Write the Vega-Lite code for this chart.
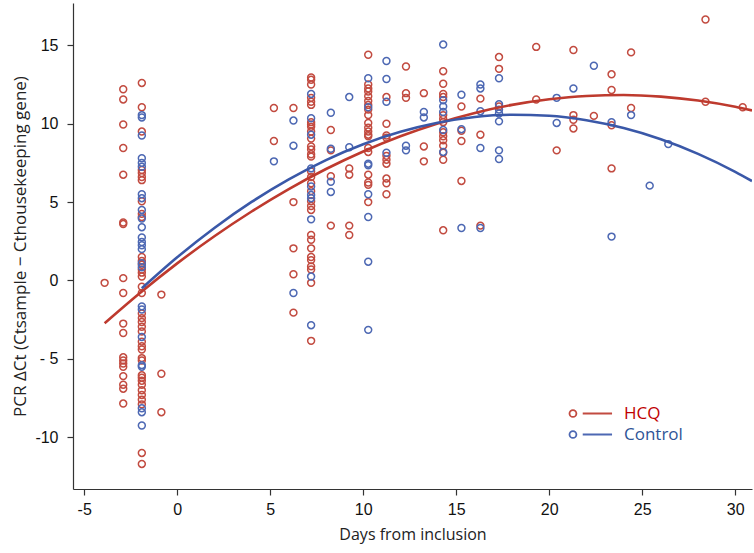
{
  "$schema": "https://vega.github.io/schema/vega-lite/v6.json",
  "width": 679,
  "height": 486,
  "autosize": "none",
  "padding": {"left": 73, "top": 3, "right": 2, "bottom": 64},
  "background": "white",
  "config": {
    "view": {"stroke": null},
    "axis": {
      "grid": false,
      "domainColor": "#333333",
      "domainWidth": 1.2,
      "tickColor": "#333333",
      "tickWidth": 1.2,
      "tickSize": 6,
      "labelFont": "Liberation Sans",
      "labelFontSize": 16,
      "labelColor": "#111111",
      "titleFont": "Open Sans",
      "titleFontSize": 16,
      "titleFontWeight": "normal",
      "titleColor": "#222222"
    }
  },
  "datasets": {
    "points": [
      {"day": -3.9, "dct": -0.15, "arm": "HCQ"},
      {"day": -2.9, "dct": 12.2, "arm": "HCQ"}, {"day": -2.9, "dct": 11.55, "arm": "HCQ"}, {"day": -2.9, "dct": 9.95, "arm": "HCQ"},
      {"day": -2.9, "dct": 8.45, "arm": "HCQ"}, {"day": -2.9, "dct": 6.75, "arm": "HCQ"}, {"day": -2.9, "dct": 3.7, "arm": "HCQ"},
      {"day": -2.9, "dct": 3.6, "arm": "HCQ"}, {"day": -2.9, "dct": 0.15, "arm": "HCQ"}, {"day": -2.9, "dct": -0.8, "arm": "HCQ"},
      {"day": -2.9, "dct": -2.75, "arm": "HCQ"}, {"day": -2.9, "dct": -3.35, "arm": "HCQ"}, {"day": -2.9, "dct": -4.9, "arm": "HCQ"},
      {"day": -2.9, "dct": -5.1, "arm": "HCQ"}, {"day": -2.9, "dct": -5.3, "arm": "HCQ"}, {"day": -2.9, "dct": -5.5, "arm": "HCQ"},
      {"day": -2.9, "dct": -6.1, "arm": "HCQ"}, {"day": -2.9, "dct": -6.65, "arm": "HCQ"}, {"day": -2.9, "dct": -6.9, "arm": "HCQ"},
      {"day": -2.9, "dct": -7.85, "arm": "HCQ"},
      {"day": -1.9, "dct": 12.6, "arm": "HCQ"}, {"day": -1.9, "dct": 11.05, "arm": "HCQ"}, {"day": -1.9, "dct": 9.5, "arm": "HCQ"},
      {"day": -1.9, "dct": 7.05, "arm": "HCQ"}, {"day": -1.9, "dct": 6.85, "arm": "HCQ"}, {"day": -1.9, "dct": 6.6, "arm": "HCQ"},
      {"day": -1.9, "dct": 6.4, "arm": "HCQ"}, {"day": -1.9, "dct": 5.05, "arm": "HCQ"}, {"day": -1.9, "dct": 4.25, "arm": "HCQ"},
      {"day": -1.9, "dct": 4.05, "arm": "HCQ"}, {"day": -1.9, "dct": 1.5, "arm": "HCQ"}, {"day": -1.9, "dct": 1.25, "arm": "HCQ"},
      {"day": -1.9, "dct": 1.0, "arm": "HCQ"}, {"day": -1.9, "dct": 0.7, "arm": "HCQ"}, {"day": -1.9, "dct": 0.5, "arm": "HCQ"},
      {"day": -1.9, "dct": 0.25, "arm": "HCQ"}, {"day": -1.9, "dct": -0.4, "arm": "HCQ"}, {"day": -1.9, "dct": -0.8, "arm": "HCQ"},
      {"day": -1.9, "dct": -2.1, "arm": "HCQ"}, {"day": -1.9, "dct": -2.4, "arm": "HCQ"}, {"day": -1.9, "dct": -2.65, "arm": "HCQ"},
      {"day": -1.9, "dct": -2.95, "arm": "HCQ"}, {"day": -1.9, "dct": -3.25, "arm": "HCQ"}, {"day": -1.9, "dct": -3.9, "arm": "HCQ"},
      {"day": -1.9, "dct": -4.2, "arm": "HCQ"}, {"day": -1.9, "dct": -4.4, "arm": "HCQ"}, {"day": -1.9, "dct": -4.95, "arm": "HCQ"},
      {"day": -1.9, "dct": -5.1, "arm": "HCQ"}, {"day": -1.9, "dct": -6.05, "arm": "HCQ"}, {"day": -1.9, "dct": -6.2, "arm": "HCQ"},
      {"day": -1.9, "dct": -6.4, "arm": "HCQ"}, {"day": -1.9, "dct": -6.65, "arm": "HCQ"}, {"day": -1.9, "dct": -7.0, "arm": "HCQ"},
      {"day": -1.9, "dct": -7.3, "arm": "HCQ"}, {"day": -1.9, "dct": -7.6, "arm": "HCQ"}, {"day": -1.9, "dct": -7.9, "arm": "HCQ"},
      {"day": -1.9, "dct": -11.0, "arm": "HCQ"}, {"day": -1.9, "dct": -11.7, "arm": "HCQ"},
      {"day": -0.85, "dct": -0.9, "arm": "HCQ"}, {"day": -0.85, "dct": -5.95, "arm": "HCQ"}, {"day": -0.85, "dct": -8.4, "arm": "HCQ"},
      {"day": 5.2, "dct": 11.0, "arm": "HCQ"}, {"day": 5.2, "dct": 8.9, "arm": "HCQ"},
      {"day": 6.25, "dct": 11.0, "arm": "HCQ"}, {"day": 6.25, "dct": 5.0, "arm": "HCQ"}, {"day": 6.25, "dct": 2.05, "arm": "HCQ"},
      {"day": 6.25, "dct": 0.4, "arm": "HCQ"}, {"day": 6.25, "dct": -2.05, "arm": "HCQ"},
      {"day": 7.2, "dct": 12.95, "arm": "HCQ"}, {"day": 7.2, "dct": 12.8, "arm": "HCQ"}, {"day": 7.2, "dct": 12.5, "arm": "HCQ"},
      {"day": 7.2, "dct": 11.65, "arm": "HCQ"}, {"day": 7.2, "dct": 11.4, "arm": "HCQ"}, {"day": 7.2, "dct": 11.2, "arm": "HCQ"},
      {"day": 7.2, "dct": 10.1, "arm": "HCQ"}, {"day": 7.2, "dct": 9.95, "arm": "HCQ"}, {"day": 7.2, "dct": 9.8, "arm": "HCQ"},
      {"day": 7.2, "dct": 9.5, "arm": "HCQ"}, {"day": 7.2, "dct": 9.05, "arm": "HCQ"}, {"day": 7.2, "dct": 8.55, "arm": "HCQ"},
      {"day": 7.2, "dct": 8.35, "arm": "HCQ"}, {"day": 7.2, "dct": 8.05, "arm": "HCQ"}, {"day": 7.2, "dct": 7.9, "arm": "HCQ"},
      {"day": 7.2, "dct": 6.95, "arm": "HCQ"}, {"day": 7.2, "dct": 6.6, "arm": "HCQ"}, {"day": 7.2, "dct": 6.2, "arm": "HCQ"},
      {"day": 7.2, "dct": 5.7, "arm": "HCQ"}, {"day": 7.2, "dct": 5.05, "arm": "HCQ"}, {"day": 7.2, "dct": 4.75, "arm": "HCQ"},
      {"day": 7.2, "dct": 4.5, "arm": "HCQ"}, {"day": 7.2, "dct": 2.9, "arm": "HCQ"}, {"day": 7.2, "dct": 2.6, "arm": "HCQ"},
      {"day": 7.2, "dct": 2.05, "arm": "HCQ"}, {"day": 7.2, "dct": 1.5, "arm": "HCQ"}, {"day": 7.2, "dct": 1.3, "arm": "HCQ"},
      {"day": 7.2, "dct": 0.9, "arm": "HCQ"}, {"day": 7.2, "dct": 0.7, "arm": "HCQ"}, {"day": 7.2, "dct": -0.15, "arm": "HCQ"},
      {"day": 7.2, "dct": -3.85, "arm": "HCQ"},
      {"day": 8.26, "dct": 9.6, "arm": "HCQ"}, {"day": 8.26, "dct": 8.3, "arm": "HCQ"}, {"day": 8.26, "dct": 6.65, "arm": "HCQ"},
      {"day": 8.26, "dct": 3.5, "arm": "HCQ"},
      {"day": 9.25, "dct": 7.15, "arm": "HCQ"}, {"day": 9.25, "dct": 6.75, "arm": "HCQ"}, {"day": 9.25, "dct": 3.5, "arm": "HCQ"},
      {"day": 9.25, "dct": 2.9, "arm": "HCQ"},
      {"day": 10.27, "dct": 14.4, "arm": "HCQ"}, {"day": 10.27, "dct": 12.5, "arm": "HCQ"}, {"day": 10.27, "dct": 12.25, "arm": "HCQ"},
      {"day": 10.27, "dct": 12.05, "arm": "HCQ"}, {"day": 10.27, "dct": 11.75, "arm": "HCQ"}, {"day": 10.27, "dct": 11.45, "arm": "HCQ"},
      {"day": 10.27, "dct": 11.2, "arm": "HCQ"}, {"day": 10.27, "dct": 10.9, "arm": "HCQ"}, {"day": 10.27, "dct": 10.55, "arm": "HCQ"},
      {"day": 10.27, "dct": 10.05, "arm": "HCQ"}, {"day": 10.27, "dct": 9.75, "arm": "HCQ"}, {"day": 10.27, "dct": 9.5, "arm": "HCQ"},
      {"day": 10.27, "dct": 9.3, "arm": "HCQ"}, {"day": 10.27, "dct": 9.2, "arm": "HCQ"}, {"day": 10.27, "dct": 8.45, "arm": "HCQ"},
      {"day": 10.27, "dct": 8.2, "arm": "HCQ"}, {"day": 10.27, "dct": 6.75, "arm": "HCQ"}, {"day": 10.27, "dct": 6.25, "arm": "HCQ"},
      {"day": 10.27, "dct": 6.1, "arm": "HCQ"}, {"day": 10.27, "dct": 5.0, "arm": "HCQ"},
      {"day": 11.25, "dct": 11.7, "arm": "HCQ"}, {"day": 11.25, "dct": 10.0, "arm": "HCQ"}, {"day": 11.25, "dct": 9.25, "arm": "HCQ"},
      {"day": 11.25, "dct": 9.1, "arm": "HCQ"}, {"day": 11.25, "dct": 7.95, "arm": "HCQ"}, {"day": 11.25, "dct": 7.7, "arm": "HCQ"},
      {"day": 11.25, "dct": 7.45, "arm": "HCQ"}, {"day": 11.25, "dct": 6.5, "arm": "HCQ"}, {"day": 11.25, "dct": 6.2, "arm": "HCQ"},
      {"day": 11.25, "dct": 5.5, "arm": "HCQ"},
      {"day": 12.3, "dct": 13.65, "arm": "HCQ"}, {"day": 12.3, "dct": 11.95, "arm": "HCQ"}, {"day": 12.3, "dct": 11.65, "arm": "HCQ"},
      {"day": 13.26, "dct": 11.95, "arm": "HCQ"}, {"day": 13.26, "dct": 8.55, "arm": "HCQ"}, {"day": 13.26, "dct": 7.6, "arm": "HCQ"},
      {"day": 14.3, "dct": 13.35, "arm": "HCQ"}, {"day": 14.3, "dct": 12.55, "arm": "HCQ"}, {"day": 14.3, "dct": 11.9, "arm": "HCQ"},
      {"day": 14.3, "dct": 11.7, "arm": "HCQ"}, {"day": 14.3, "dct": 10.55, "arm": "HCQ"}, {"day": 14.3, "dct": 10.3, "arm": "HCQ"},
      {"day": 14.3, "dct": 10.1, "arm": "HCQ"}, {"day": 14.3, "dct": 9.45, "arm": "HCQ"}, {"day": 14.3, "dct": 9.2, "arm": "HCQ"},
      {"day": 14.3, "dct": 8.95, "arm": "HCQ"}, {"day": 14.3, "dct": 8.6, "arm": "HCQ"}, {"day": 14.3, "dct": 8.15, "arm": "HCQ"},
      {"day": 14.3, "dct": 7.7, "arm": "HCQ"}, {"day": 14.3, "dct": 3.2, "arm": "HCQ"},
      {"day": 15.28, "dct": 11.1, "arm": "HCQ"}, {"day": 15.28, "dct": 9.55, "arm": "HCQ"}, {"day": 15.28, "dct": 8.9, "arm": "HCQ"},
      {"day": 15.28, "dct": 6.35, "arm": "HCQ"},
      {"day": 16.3, "dct": 11.6, "arm": "HCQ"}, {"day": 16.3, "dct": 9.3, "arm": "HCQ"}, {"day": 16.3, "dct": 3.5, "arm": "HCQ"},
      {"day": 17.3, "dct": 14.25, "arm": "HCQ"}, {"day": 17.3, "dct": 13.5, "arm": "HCQ"}, {"day": 17.3, "dct": 11.1, "arm": "HCQ"},
      {"day": 19.3, "dct": 14.9, "arm": "HCQ"}, {"day": 19.3, "dct": 11.55, "arm": "HCQ"},
      {"day": 20.4, "dct": 8.3, "arm": "HCQ"},
      {"day": 21.3, "dct": 14.7, "arm": "HCQ"}, {"day": 21.3, "dct": 10.55, "arm": "HCQ"}, {"day": 21.3, "dct": 10.25, "arm": "HCQ"},
      {"day": 21.3, "dct": 9.7, "arm": "HCQ"},
      {"day": 22.4, "dct": 10.5, "arm": "HCQ"},
      {"day": 23.35, "dct": 13.15, "arm": "HCQ"}, {"day": 23.35, "dct": 12.15, "arm": "HCQ"}, {"day": 23.35, "dct": 9.9, "arm": "HCQ"},
      {"day": 23.35, "dct": 7.15, "arm": "HCQ"},
      {"day": 24.4, "dct": 14.55, "arm": "HCQ"}, {"day": 24.4, "dct": 11.0, "arm": "HCQ"},
      {"day": 28.4, "dct": 16.65, "arm": "HCQ"}, {"day": 28.4, "dct": 11.4, "arm": "HCQ"},
      {"day": 30.4, "dct": 11.05, "arm": "HCQ"},
      {"day": -1.9, "dct": 10.55, "arm": "Control"}, {"day": -1.9, "dct": 10.4, "arm": "Control"}, {"day": -1.9, "dct": 9.25, "arm": "Control"},
      {"day": -1.9, "dct": 7.8, "arm": "Control"}, {"day": -1.9, "dct": 7.5, "arm": "Control"}, {"day": -1.9, "dct": 7.25, "arm": "Control"},
      {"day": -1.9, "dct": 5.5, "arm": "Control"}, {"day": -1.9, "dct": 5.25, "arm": "Control"}, {"day": -1.9, "dct": 4.5, "arm": "Control"},
      {"day": -1.9, "dct": 3.95, "arm": "Control"}, {"day": -1.9, "dct": 3.4, "arm": "Control"}, {"day": -1.9, "dct": 2.75, "arm": "Control"},
      {"day": -1.9, "dct": 2.45, "arm": "Control"}, {"day": -1.9, "dct": 2.25, "arm": "Control"}, {"day": -1.9, "dct": 2.0, "arm": "Control"},
      {"day": -1.9, "dct": 1.1, "arm": "Control"}, {"day": -1.9, "dct": 0.85, "arm": "Control"}, {"day": -1.9, "dct": -1.65, "arm": "Control"},
      {"day": -1.9, "dct": -1.85, "arm": "Control"}, {"day": -1.9, "dct": -3.6, "arm": "Control"}, {"day": -1.9, "dct": -5.4, "arm": "Control"},
      {"day": -1.9, "dct": -5.5, "arm": "Control"}, {"day": -1.9, "dct": -8.15, "arm": "Control"}, {"day": -1.9, "dct": -8.4, "arm": "Control"},
      {"day": -1.9, "dct": -9.25, "arm": "Control"},
      {"day": 5.2, "dct": 7.6, "arm": "Control"},
      {"day": 6.25, "dct": 10.2, "arm": "Control"}, {"day": 6.25, "dct": 8.6, "arm": "Control"}, {"day": 6.25, "dct": -0.8, "arm": "Control"},
      {"day": 7.2, "dct": 11.9, "arm": "Control"}, {"day": 7.2, "dct": 10.35, "arm": "Control"}, {"day": 7.2, "dct": 9.3, "arm": "Control"},
      {"day": 7.2, "dct": 7.15, "arm": "Control"}, {"day": 7.2, "dct": 6.0, "arm": "Control"}, {"day": 7.2, "dct": 5.45, "arm": "Control"},
      {"day": 7.2, "dct": 5.25, "arm": "Control"}, {"day": 7.2, "dct": 3.9, "arm": "Control"}, {"day": 7.2, "dct": 0.25, "arm": "Control"},
      {"day": 7.2, "dct": -2.85, "arm": "Control"},
      {"day": 8.26, "dct": 10.7, "arm": "Control"}, {"day": 8.26, "dct": 8.4, "arm": "Control"}, {"day": 8.26, "dct": 6.3, "arm": "Control"},
      {"day": 8.26, "dct": 5.65, "arm": "Control"},
      {"day": 9.25, "dct": 11.7, "arm": "Control"}, {"day": 9.25, "dct": 8.5, "arm": "Control"},
      {"day": 10.27, "dct": 12.9, "arm": "Control"}, {"day": 10.27, "dct": 11.05, "arm": "Control"}, {"day": 10.27, "dct": 7.45, "arm": "Control"},
      {"day": 10.27, "dct": 7.35, "arm": "Control"}, {"day": 10.27, "dct": 5.5, "arm": "Control"}, {"day": 10.27, "dct": 4.05, "arm": "Control"},
      {"day": 10.27, "dct": 1.2, "arm": "Control"}, {"day": 10.27, "dct": -3.15, "arm": "Control"},
      {"day": 11.25, "dct": 14.0, "arm": "Control"}, {"day": 11.25, "dct": 12.85, "arm": "Control"}, {"day": 11.25, "dct": 11.4, "arm": "Control"},
      {"day": 11.25, "dct": 8.15, "arm": "Control"},
      {"day": 12.3, "dct": 8.6, "arm": "Control"}, {"day": 12.3, "dct": 8.3, "arm": "Control"},
      {"day": 13.26, "dct": 10.75, "arm": "Control"}, {"day": 13.26, "dct": 10.4, "arm": "Control"},
      {"day": 14.3, "dct": 15.05, "arm": "Control"}, {"day": 14.3, "dct": 11.5, "arm": "Control"}, {"day": 14.3, "dct": 11.1, "arm": "Control"},
      {"day": 14.3, "dct": 10.75, "arm": "Control"}, {"day": 14.3, "dct": 9.6, "arm": "Control"}, {"day": 14.3, "dct": 8.2, "arm": "Control"},
      {"day": 15.28, "dct": 11.85, "arm": "Control"}, {"day": 15.28, "dct": 9.65, "arm": "Control"}, {"day": 15.28, "dct": 3.35, "arm": "Control"},
      {"day": 16.3, "dct": 12.5, "arm": "Control"}, {"day": 16.3, "dct": 12.25, "arm": "Control"}, {"day": 16.3, "dct": 10.8, "arm": "Control"},
      {"day": 16.3, "dct": 8.45, "arm": "Control"}, {"day": 16.3, "dct": 3.35, "arm": "Control"},
      {"day": 17.3, "dct": 12.9, "arm": "Control"}, {"day": 17.3, "dct": 11.25, "arm": "Control"}, {"day": 17.3, "dct": 10.9, "arm": "Control"},
      {"day": 17.3, "dct": 10.65, "arm": "Control"}, {"day": 17.3, "dct": 10.15, "arm": "Control"}, {"day": 17.3, "dct": 8.3, "arm": "Control"},
      {"day": 17.3, "dct": 7.75, "arm": "Control"},
      {"day": 20.4, "dct": 11.65, "arm": "Control"}, {"day": 20.4, "dct": 10.05, "arm": "Control"},
      {"day": 21.3, "dct": 12.25, "arm": "Control"},
      {"day": 22.4, "dct": 13.7, "arm": "Control"},
      {"day": 23.35, "dct": 10.1, "arm": "Control"}, {"day": 23.35, "dct": 2.8, "arm": "Control"},
      {"day": 24.4, "dct": 10.55, "arm": "Control"},
      {"day": 25.4, "dct": 6.05, "arm": "Control"},
      {"day": 26.4, "dct": 8.7, "arm": "Control"}
    ],
    "fits": [
      {"day": -3.9, "dct": -2.73, "arm": "HCQ"}, {"day": -2, "dct": -0.8, "arm": "HCQ"}, {"day": 0, "dct": 1.09, "arm": "HCQ"},
      {"day": 2, "dct": 2.82, "arm": "HCQ"}, {"day": 4, "dct": 4.4, "arm": "HCQ"}, {"day": 6, "dct": 5.83, "arm": "HCQ"},
      {"day": 8, "dct": 7.11, "arm": "HCQ"}, {"day": 10, "dct": 8.23, "arm": "HCQ"}, {"day": 12, "dct": 9.2, "arm": "HCQ"},
      {"day": 14, "dct": 10.02, "arm": "HCQ"}, {"day": 16, "dct": 10.69, "arm": "HCQ"}, {"day": 18, "dct": 11.2, "arm": "HCQ"},
      {"day": 20, "dct": 11.56, "arm": "HCQ"}, {"day": 22, "dct": 11.77, "arm": "HCQ"}, {"day": 24, "dct": 11.83, "arm": "HCQ"},
      {"day": 26, "dct": 11.73, "arm": "HCQ"}, {"day": 28, "dct": 11.48, "arm": "HCQ"}, {"day": 30, "dct": 11.08, "arm": "HCQ"},
      {"day": 30.9, "dct": 10.85, "arm": "HCQ"},
      {"day": -1.9, "dct": -0.5, "arm": "Control"}, {"day": 0, "dct": 1.48, "arm": "Control"}, {"day": 2, "dct": 3.35, "arm": "Control"},
      {"day": 4, "dct": 5.01, "arm": "Control"}, {"day": 6, "dct": 6.45, "arm": "Control"}, {"day": 8, "dct": 7.68, "arm": "Control"},
      {"day": 10, "dct": 8.69, "arm": "Control"}, {"day": 12, "dct": 9.48, "arm": "Control"}, {"day": 14, "dct": 10.06, "arm": "Control"},
      {"day": 16, "dct": 10.43, "arm": "Control"}, {"day": 18, "dct": 10.57, "arm": "Control"}, {"day": 20, "dct": 10.51, "arm": "Control"},
      {"day": 22, "dct": 10.22, "arm": "Control"}, {"day": 24, "dct": 9.72, "arm": "Control"}, {"day": 26, "dct": 9.01, "arm": "Control"},
      {"day": 28, "dct": 8.08, "arm": "Control"}, {"day": 30, "dct": 6.93, "arm": "Control"}, {"day": 30.9, "dct": 6.34, "arm": "Control"}
    ]
  },
  "layer": [
    {
      "data": {"name": "points"},
      "mark": {"type": "point", "shape": "circle", "filled": false, "size": 48, "strokeWidth": 1.5, "opacity": 1},
      "encoding": {
        "x": {
          "field": "day",
          "type": "quantitative",
          "scale": {"domain": [-5.6, 30.9], "nice": false, "zero": false},
          "axis": {
            "title": "Days from inclusion",
            "values": [-5, 0, 5, 10, 15, 20, 25, 30],
            "labelPadding": 6,
            "titlePadding": 9,
            "labelExpr": "datum.value < 0 ? '-' + (-datum.value) : '' + datum.value"
          }
        },
        "y": {
          "field": "dct",
          "type": "quantitative",
          "scale": {"domain": [-13.3, 17.7], "nice": false, "zero": false},
          "axis": {
            "title": "PCR ΔCt (Ctsample − Cthousekeeping gene)",
            "titleFontSize": 17,
            "values": [-10, -5, 0, 5, 10, 15],
            "labelPadding": 9,
            "titlePadding": 5,
            "labelExpr": "datum.value == -5 ? '- 5' : (datum.value < 0 ? '-' + (-datum.value) : '' + datum.value)"
          }
        },
        "color": {
          "field": "arm",
          "type": "nominal",
          "scale": {"domain": ["HCQ", "Control"], "range": ["#C24B40", "#4D68B3"]},
          "legend": {
            "title": null,
            "orient": "none",
            "legendX": 507,
            "legendY": 398,
            "symbolType": "M-2.0,0 A0.3,0.3 0 1,0 -1.4,0 A0.3,0.3 0 1,0 -2.0,0 Z M-0.85,0 L1.7,0",
            "symbolSize": 529,
            "symbolStrokeWidth": 1.8,
            "symbolFillColor": "transparent",
            "labelOffset": 19,
            "rowPadding": 0,
            "labelFont": "Open Sans",
            "labelFontSize": 17,
            "labelColor": {"expr": "datum.value == 'HCQ' ? '#C00000' : '#2F5496'"}
          }
        }
      }
    },
    {
      "data": {"name": "fits"},
      "mark": {"type": "line", "strokeWidth": 2.6, "interpolate": "monotone", "clip": true},
      "encoding": {
        "x": {"field": "day", "type": "quantitative"},
        "y": {"field": "dct", "type": "quantitative"},
        "stroke": {
          "field": "arm",
          "type": "nominal",
          "scale": {"domain": ["HCQ", "Control"], "range": ["#BE3A2E", "#3A58A8"]},
          "legend": null
        }
      }
    }
  ]
}
